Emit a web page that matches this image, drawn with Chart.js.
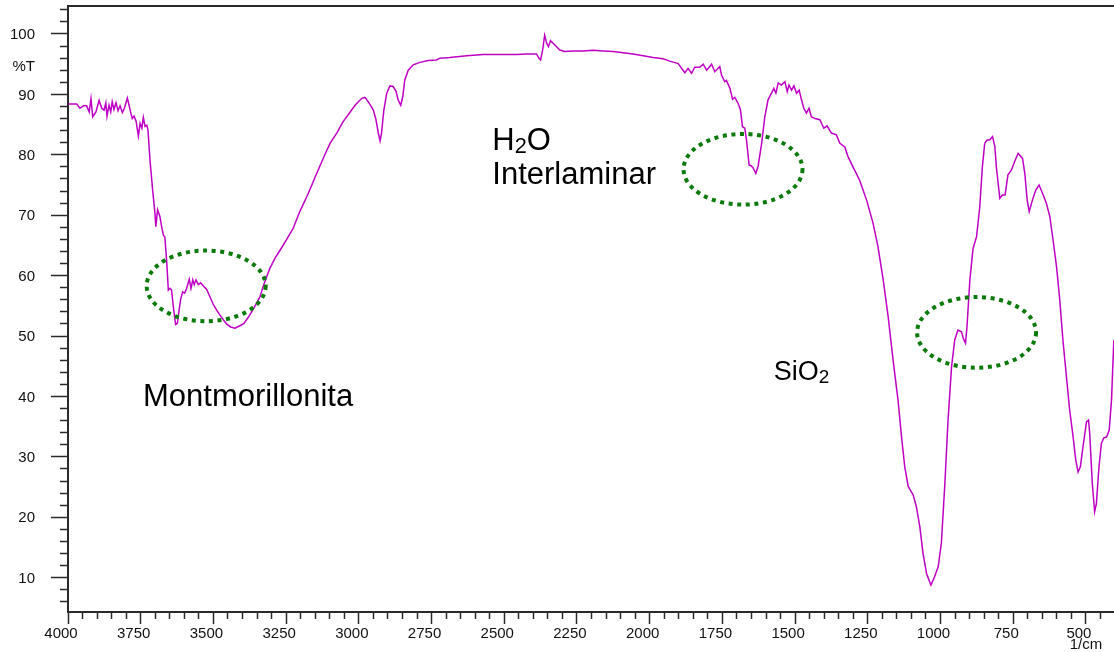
<!DOCTYPE html>
<html>
<head>
<meta charset="utf-8">
<title>Espectro FTIR – Montmorillonita</title>
<script src="https://cdn.jsdelivr.net/npm/chart.js@4/dist/chart.umd.min.js"></script>
<style>
  html, body { margin: 0; padding: 0; background: #fff; overflow: hidden; }
  #wrap { width: 1120px; height: 652px; }
</style>
</head>
<body>
<div id="wrap"><canvas id="ftir" width="1120" height="652"></canvas></div>
<script>
// Wavenumber (1/cm) and transmittance (%T) of the spectrum
const wavenumbers = [
  3999, 3970, 3959, 3947, 3936, 3927, 3921, 3915, 3904, 3893, 3884, 3876, 3870, 3866, 3859, 3853,
  3848, 3842, 3835, 3828, 3821, 3813, 3806, 3796, 3789, 3784, 3779, 3773, 3766, 3758, 3752, 3746,
  3741, 3735, 3729, 3725, 3718, 3709, 3701, 3698, 3692, 3684, 3678, 3672, 3667, 3661, 3655, 3649,
  3644, 3638, 3630, 3624, 3618, 3613, 3606, 3599, 3592, 3583, 3577, 3571, 3566, 3560, 3552, 3544,
  3533, 3523, 3512, 3501, 3489, 3478, 3466, 3455, 3441, 3426, 3409, 3395, 3380, 3365, 3351, 3340,
  3329, 3317, 3306, 3288, 3271, 3248, 3226, 3203, 3174, 3145, 3117, 3099, 3076, 3054, 3031, 3013,
  2990, 2979, 2968, 2956, 2950, 2941, 2933, 2927, 2922, 2914, 2904, 2893, 2882, 2872, 2865, 2856,
  2849, 2842, 2830, 2813, 2790, 2761, 2733, 2721, 2687, 2629, 2572, 2515, 2458, 2423, 2389, 2381,
  2375, 2368, 2361, 2354, 2348, 2341, 2332, 2320, 2309, 2292, 2263, 2229, 2194, 2160, 2126, 2091,
  2057, 2022, 1988, 1954, 1931, 1902, 1879, 1868, 1856, 1845, 1828, 1816, 1804, 1787, 1776, 1759,
  1753, 1742, 1736, 1724, 1715, 1707, 1696, 1688, 1681, 1673, 1667, 1658, 1650, 1644, 1635, 1627,
  1615, 1604, 1593, 1581, 1573, 1566, 1558, 1547, 1535, 1527, 1521, 1512, 1504, 1495, 1486, 1478,
  1470, 1461, 1452, 1444, 1432, 1415, 1401, 1390, 1375, 1358, 1346, 1329, 1318, 1301, 1278, 1254,
  1232, 1215, 1197, 1180, 1163, 1146, 1134, 1123, 1111, 1094, 1083, 1071, 1060, 1048, 1033, 1020,
  1008, 997, 985, 974, 962, 951, 940, 928, 920, 914, 909, 899, 888, 876, 865, 856,
  848, 840, 831, 821, 813, 808, 796, 787, 778, 768, 756, 745, 733, 718, 710, 702,
  695, 684, 672, 661, 649, 636, 624, 613, 601, 590, 579, 567, 556, 544, 535, 527,
  519, 510, 498, 491, 487, 478, 470, 464, 455, 447, 439, 429, 420, 412, 404
];
const transmittance = [
  88.4, 88.4, 87.7, 88.1, 88.1, 87.1, 89.3, 86.3, 87.1, 89.0, 87.7, 87.4, 88.6, 86.4, 88.2, 87.1,
  88.8, 87.5, 88.6, 87.3, 88.1, 87.0, 87.7, 89.4, 88.0, 86.9, 86.0, 86.4, 85.6, 83.1, 85.2, 84.4,
  86.2, 84.7, 84.9, 84.1, 79.1, 74.2, 70.3, 68.1, 70.9, 69.8, 68.1, 66.7, 66.4, 62.6, 57.6, 57.9,
  57.6, 54.9, 51.9, 52.1, 54.3, 56.0, 57.3, 57.1, 57.9, 59.4, 57.9, 59.3, 58.5, 59.3, 58.5, 58.8,
  58.2, 57.7, 56.5, 55.3, 54.3, 53.5, 52.7, 52.0, 51.5, 51.3, 51.7, 52.1, 53.1, 54.3, 55.5, 56.5,
  58.2, 59.8, 61.2, 62.9, 64.2, 66.0, 67.8, 70.6, 73.6, 76.9, 80.0, 81.9, 83.6, 85.5, 87.0, 88.2,
  89.35, 89.5, 88.8, 87.9, 87.4, 85.8, 83.6, 82.3, 83.6, 87.4, 90.2, 91.4, 91.3, 90.5, 89.1, 88.2,
  89.6, 92.4, 94.0, 94.9, 95.3, 95.6, 95.7, 96.0, 96.1, 96.4, 96.6, 96.6, 96.6, 96.7, 96.7, 96.0,
  95.7, 97.35, 99.8, 98.45, 97.9, 98.9, 98.45, 97.9, 97.35, 97.1, 97.2, 97.2, 97.3, 97.2, 97.1, 96.9,
  96.7, 96.4, 96.1, 95.9, 95.5, 95.1, 93.6, 94.3, 93.5, 94.5, 94.5, 95.0, 94.0, 95.0, 93.75, 94.6,
  93.2, 92.1, 92.3, 91.0, 89.2, 89.5, 88.5, 87.5, 84.65, 84.4, 82.45, 78.3, 78.15, 77.8, 76.9, 78.15,
  81.9, 86.3, 89.1, 90.2, 91.0, 90.2, 91.9, 91.55, 92.1, 90.45, 91.55, 90.7, 91.4, 90.2, 90.7, 89.1,
  87.7, 86.9, 87.7, 86.3, 86.0, 85.8, 84.4, 84.8, 83.6, 83.3, 81.9, 81.3, 79.7, 78.0, 75.8, 72.5,
  68.7, 64.8, 59.3, 53.2, 46.0, 39.4, 33.3, 28.4, 25.1, 23.7, 21.75, 18.4, 14.0, 10.7, 8.8, 10.2,
  11.8, 15.7, 25.6, 36.1, 44.9, 49.4, 51.0, 50.7, 49.4, 48.8, 51.5, 59.3, 64.5, 66.45, 71.4, 78.0,
  81.9, 82.45, 82.45, 83.0, 81.3, 78.0, 72.8, 73.35, 73.35, 76.7, 77.5, 78.9, 80.25, 79.4, 76.9, 72.5,
  70.6, 72.5, 74.2, 75.0, 73.6, 72.0, 69.75, 65.9, 61.5, 56.0, 49.3, 43.3, 37.8, 33.3, 29.5, 27.5,
  28.4, 31.7, 35.8, 36.1, 33.9, 25.6, 20.9, 22.3, 28.4, 32.2, 33.1, 33.3, 34.4, 39.4, 49.3
];

// Axis ticks
const xTickLabels = [4000, 3750, 3500, 3250, 3000, 2750, 2500, 2250, 2000, 1750, 1500, 1250, 1000, 750, 500];
const yTickLabels = [10, 20, 30, 40, 50, 60, 70, 80, 90, 100];
const xMinorStep = 50;
const yMinorStep = 2;
const xRange = [400, 4000];
const yRange = [4.32, 104.63];
const yUnitLabel = '%T';
const xUnitLabel = '1/cm';

// Highlighted absorption bands (centre in wavenumber / %T)
const bandCentres = [[3525, 58.3], [1679, 77.6], [876, 50.6]];
const bandHalfSpan = [204.5, 5.85];

// Text notes: anchor (wavenumber, %T at baseline) and text runs
const noteAnchors = [[3742, 38.47], [2541, 80.79], [2541, 75.16], [1573, 42.72]];
const noteTexts = [
  [['Montmorillonita']],
  [['H'], ['2', 'sub'], ['O']],
  [['Interlaminar']],
  [['SiO'], ['2', 'sub']]
];
const noteSizes = [31, 31, 31, 27];

const FONT = "'Liberation Sans', Arial, Helvetica, sans-serif";
const AXIS_COLOR = '#2a2a2a';

function tickList(lo, hi, step) {
  const out = [];
  for (let v = Math.ceil(lo / step) * step; v <= hi + 1e-9; v += step) out.push({ value: v });
  return out;
}

const notesPlugin = {
  id: 'spectrumNotes',
  afterDatasetsDraw(chart) {
    const { ctx, scales: { x, y } } = chart;
    ctx.save();

    // dotted ellipses around the bands
    ctx.strokeStyle = '#0a7a0a';
    ctx.lineWidth = 4;
    ctx.setLineDash([4, 4.6]);
    bandCentres.forEach(([wn, t]) => {
      const cx = x.getPixelForValue(wn), cy = y.getPixelForValue(t);
      const rx = Math.abs(x.getPixelForValue(wn + bandHalfSpan[0]) - cx);
      const ry = Math.abs(y.getPixelForValue(t + bandHalfSpan[1]) - cy);
      ctx.beginPath();
      ctx.ellipse(cx, cy, rx, ry, 0, 0, Math.PI * 2);
      ctx.stroke();
    });
    ctx.setLineDash([]);

    // labels with subscripts
    ctx.fillStyle = '#000';
    ctx.textAlign = 'left';
    ctx.textBaseline = 'alphabetic';
    noteTexts.forEach((runs, i) => {
      const size = noteSizes[i];
      let px = x.getPixelForValue(noteAnchors[i][0]);
      const py = y.getPixelForValue(noteAnchors[i][1]);
      runs.forEach(([txt, kind]) => {
        const sub = kind === 'sub';
        const fs = sub ? size * 0.7 : size;
        ctx.font = `${fs}px ${FONT}`;
        ctx.fillText(txt, px, py + (sub ? size * 0.11 : 0));
        px += ctx.measureText(txt).width;
      });
    });

    // axis unit labels
    ctx.font = `15px ${FONT}`;
    ctx.fillStyle = '#111';
    ctx.textAlign = 'right';
    ctx.textBaseline = 'middle';
    ctx.fillText(yUnitLabel, y.right - 17 - 16, y.getPixelForValue(94.7) + 1);
    ctx.textAlign = 'center';
    ctx.fillText(xUnitLabel, x.getPixelForValue(500), 645);
    ctx.restore();
  }
};

new Chart(document.getElementById('ftir'), {
  type: 'line',
  data: {
    datasets: [{
      data: wavenumbers.map((wn, i) => ({ x: wn, y: transmittance[i] })),
      borderColor: '#bf00c4',
      borderWidth: 1.5,
      pointRadius: 0,
      tension: 0,
      fill: false
    }]
  },
  options: {
    responsive: false,
    animation: false,
    events: [],
    layout: { padding: { top: 6, right: 5, left: 0, bottom: 0 } },
    plugins: { legend: { display: false }, tooltip: { enabled: false } },
    scales: {
      x: {
        type: 'linear',
        position: 'bottom',
        reverse: true,
        min: xRange[0],
        max: xRange[1],
        afterBuildTicks: s => { s.ticks = tickList(450, xRange[1], xMinorStep); },
        afterFit: s => { s.height = 40; s.paddingLeft = 0; s.paddingRight = 0; },
        ticks: {
          autoSkip: false,
          maxRotation: 0,
          padding: 1,
          labelOffset: -7,
          color: '#111',
          font: { family: FONT, size: 15 },
          callback: v => (xTickLabels.includes(v) ? String(v) : '')
        },
        grid: {
          drawOnChartArea: false,
          drawTicks: true,
          tickLength: 12,
          tickWidth: 1.5,
          tickColor: AXIS_COLOR,
          tickBorderDash: c => (xTickLabels.includes(c.tick && c.tick.value) ? [] : [6, 100])
        },
        border: { display: true, color: AXIS_COLOR, width: 2 }
      },
      xTop: {
        type: 'linear',
        position: 'top',
        reverse: true,
        min: xRange[0],
        max: xRange[1],
        ticks: { display: false },
        grid: { display: false, drawTicks: false },
        afterFit: s => { s.height = 0; s.paddingLeft = 0; s.paddingRight = 0; },
        border: { display: true, color: AXIS_COLOR, width: 2 }
      },
      y: {
        type: 'linear',
        position: 'left',
        min: yRange[0],
        max: yRange[1],
        afterBuildTicks: s => { s.ticks = tickList(yRange[0], yRange[1], yMinorStep); },
        afterFit: s => { s.width = 68; s.paddingTop = 0; s.paddingBottom = 0; },
        ticks: {
          autoSkip: false,
          padding: 16,
          labelOffset: 1,
          color: '#111',
          font: { family: FONT, size: 15 },
          callback: v => (yTickLabels.includes(Math.round(v)) && Math.abs(v - Math.round(v)) < 1e-6 ? String(Math.round(v)) : '')
        },
        grid: {
          drawOnChartArea: false,
          drawTicks: true,
          tickLength: 17,
          tickWidth: 1.5,
          tickColor: AXIS_COLOR,
          tickBorderDash: c => (c.tick && yTickLabels.includes(Math.round(c.tick.value)) ? [] : [0, 9, 8, 100])
        },
        border: { display: true, color: AXIS_COLOR, width: 2 }
      }
    }
  },
  plugins: [notesPlugin]
});
</script>
</body>
</html>
